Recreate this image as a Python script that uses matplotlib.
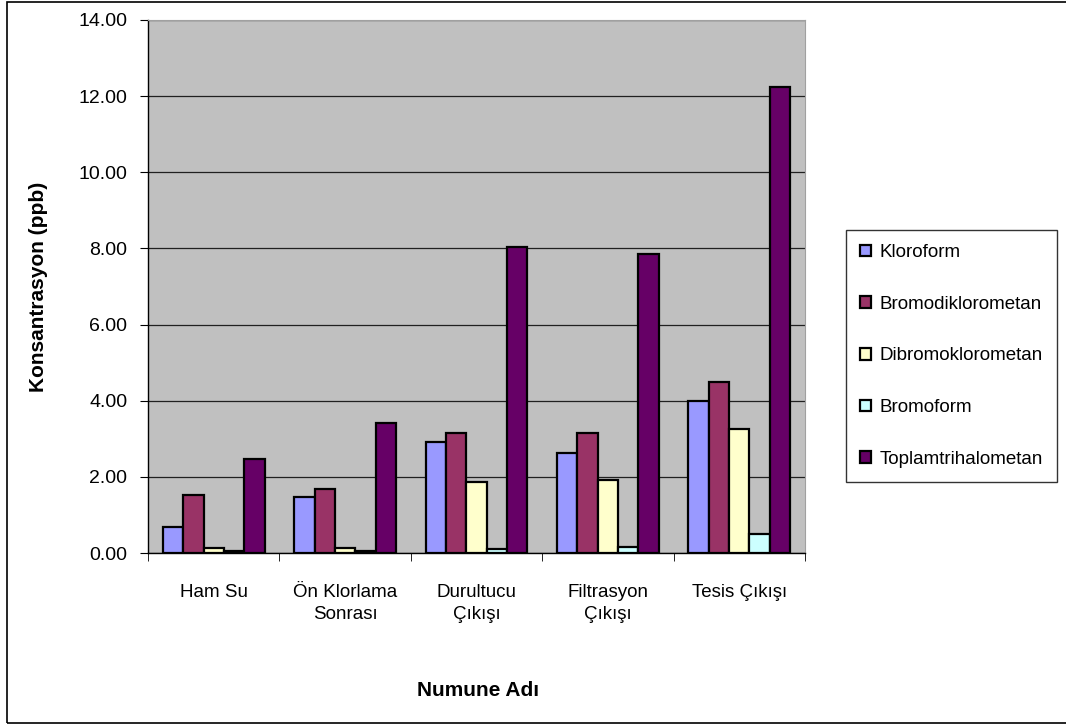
import numpy as np
import matplotlib.pyplot as plt
from matplotlib.patches import Rectangle

plt.rcParams['font.family'] = ['Liberation Sans', 'DejaVu Sans']

# Data
categories = ['Ham Su', 'Ön Klorlama\nSonrası', 'Durultucu\nÇıkışı', 'Filtrasyon\nÇıkışı', 'Tesis Çıkışı']
series = ['Kloroform', 'Bromodiklorometan', 'Dibromoklorometan', 'Bromoform', 'Toplamtrihalometan']
kloroform = [0.69, 1.48, 2.92, 2.62, 3.99]
bromodiklorometan = [1.52, 1.68, 3.16, 3.16, 4.49]
dibromoklorometan = [0.14, 0.14, 1.87, 1.93, 3.25]
bromoform = [0.05, 0.04, 0.10, 0.15, 0.50]
toplam = [2.46, 3.41, 8.04, 7.85, 12.24]
colors = ['#9999FF', '#993366', '#FFFFCC', '#CCFFFF', '#660066']

values = [kloroform, bromodiklorometan, dibromoklorometan, bromoform, toplam]

fig = plt.figure(figsize=(10.66, 7.25), dpi=100)
ax = fig.add_axes([148 / 1066, 1 - 553 / 725, 657 / 1066, 533 / 725])
ax.set_facecolor('#C0C0C0')

x = np.arange(len(categories))
w = 0.155
for i, (name, vals, c) in enumerate(zip(series, values, colors)):
    ax.bar(x + (i - 2) * w, vals, width=w, color=c, edgecolor='black',
           linewidth=1.6, label=name, zorder=3)

ax.set_xlim(-0.5, len(categories) - 0.5)
ax.set_ylim(0, 14)
ax.set_yticks(np.arange(0, 14.1, 2))
ax.set_yticklabels([f'{v:.2f}' for v in np.arange(0, 14.1, 2)], fontsize=14)
ax.yaxis.grid(True, color='#202020', linewidth=0.9, zorder=1)
ax.set_axisbelow(True)

ax.set_xticks(x)
ax.set_xticklabels(categories, fontsize=13.5, linespacing=1.45)
ax.tick_params(axis='x', length=0, pad=22)
ax.set_xticks(np.arange(-0.5, len(categories), 1), minor=True)
ax.tick_params(axis='x', which='minor', length=6, direction='out')
ax.tick_params(axis='y', length=6, direction='out', pad=9)

for s in ['top', 'right']:
    ax.spines[s].set_color('#A0A0A0')
ax.spines['left'].set_linewidth(1.0)
ax.spines['bottom'].set_linewidth(1.0)

ax.set_ylabel('Konsantrasyon (ppb)', fontsize=15, fontweight='bold', labelpad=22)
fig.text(478 / 1066, 1 - 690 / 725, 'Numune Adı', fontsize=15, fontweight='bold',
         ha='center', va='center')

leg = fig.legend(loc='upper left', bbox_to_anchor=(846 / 1066, 1 - 230 / 725),
                 frameon=True, fancybox=False, edgecolor='black', fontsize=13.5,
                 handlelength=0.57, handleheight=0.57, handletextpad=0.45,
                 labelspacing=1.85, borderpad=0.75, borderaxespad=0)
leg.get_frame().set_linewidth(1.0)

fig.patches.append(Rectangle((7 / 1066, 1 - 723 / 725), 1070 / 1066, 721 / 725,
                             transform=fig.transFigure, fill=False,
                             edgecolor='black', linewidth=1.2))

fig.savefig('out.png', dpi=100)
